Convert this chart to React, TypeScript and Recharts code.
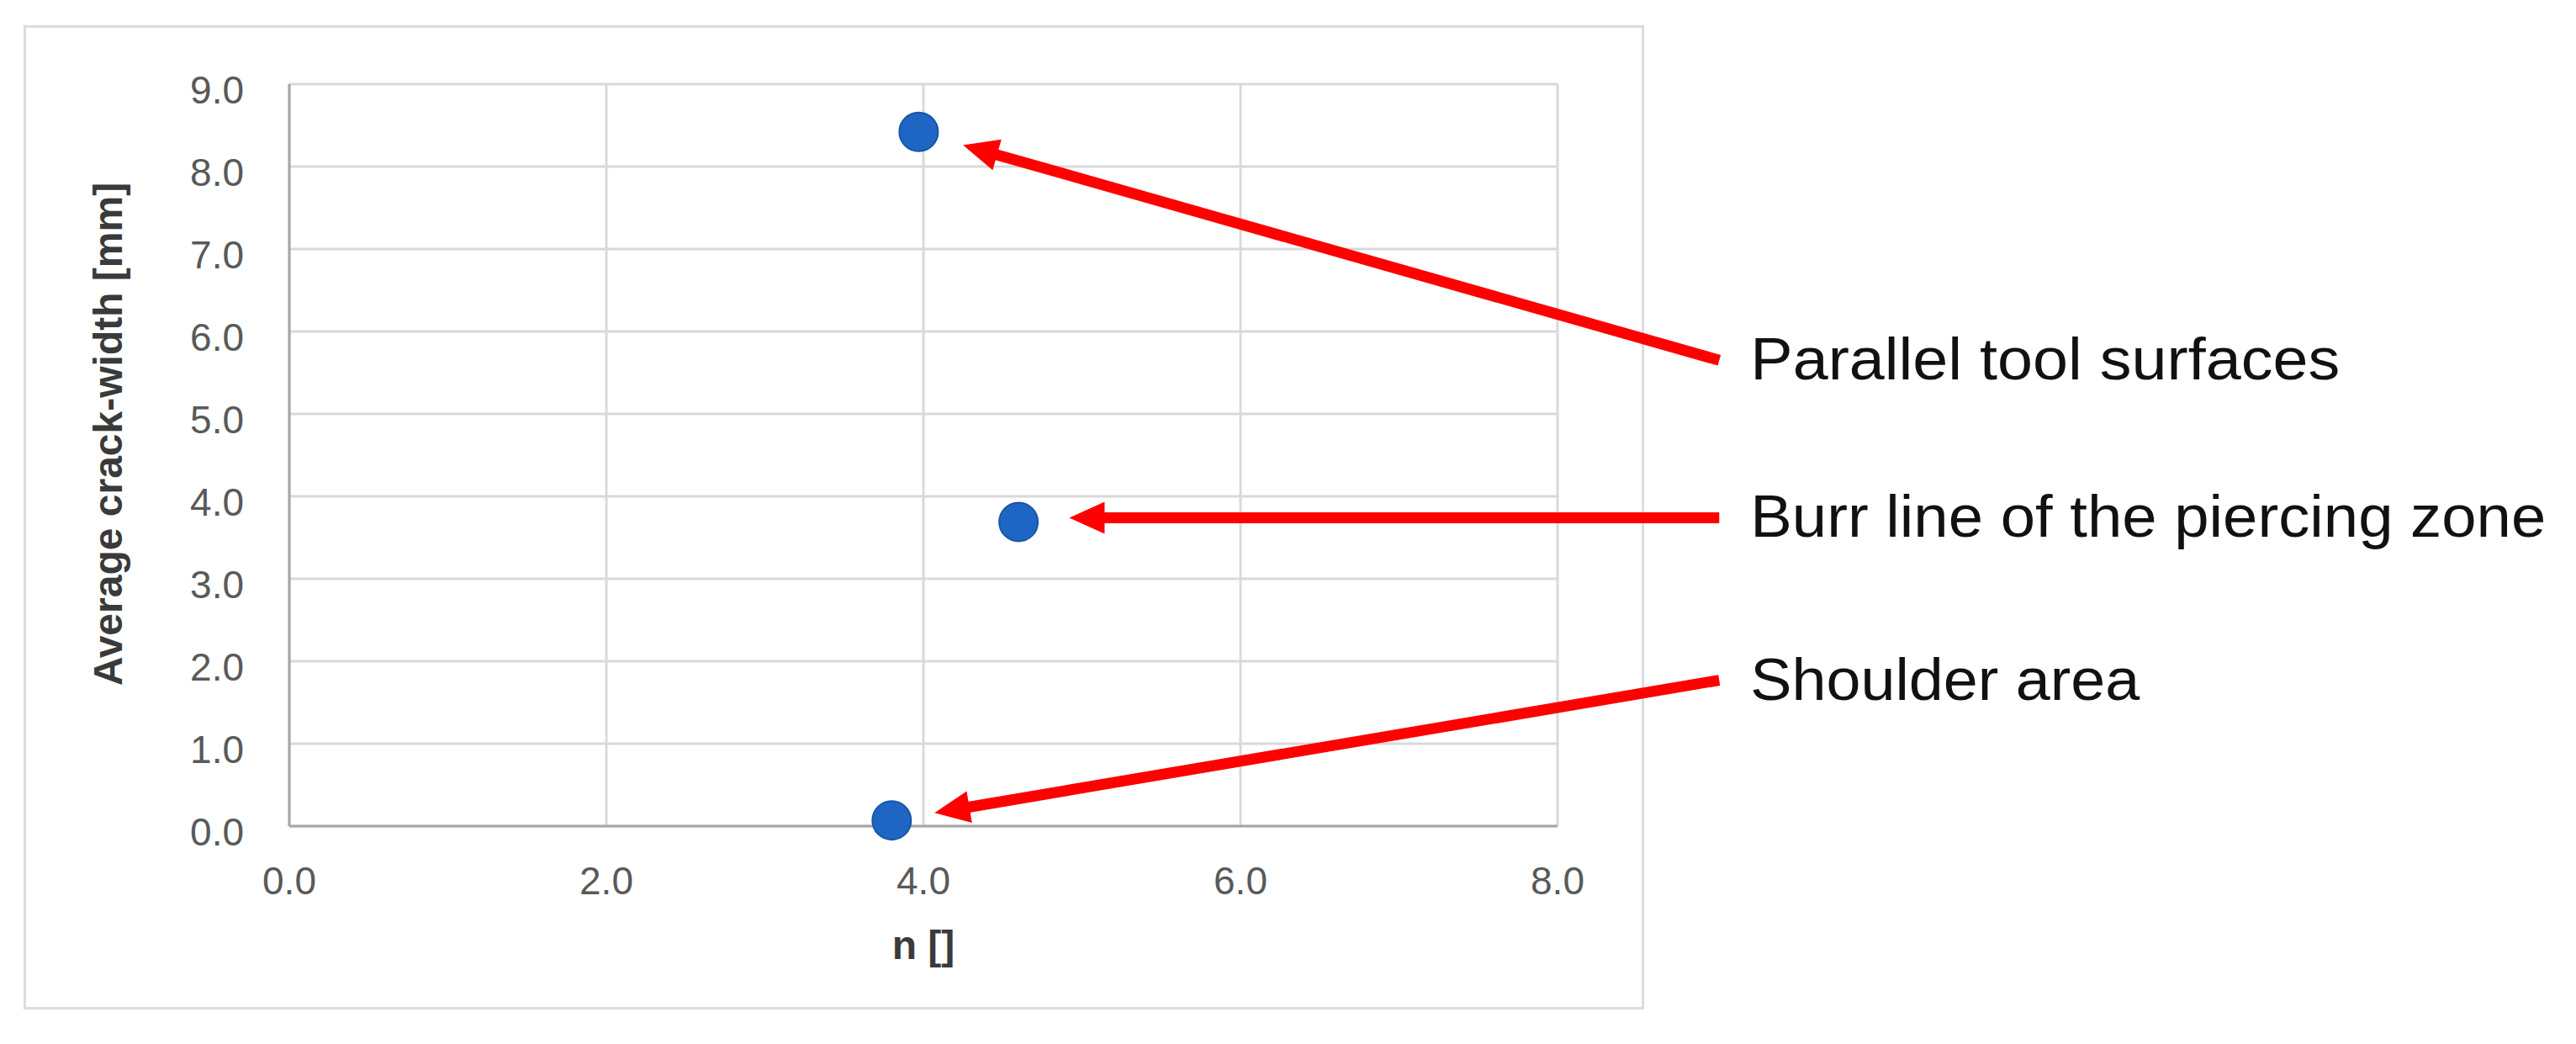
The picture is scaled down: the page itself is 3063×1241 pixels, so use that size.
import { CartesianGrid, ReferenceLine, Scatter, ScatterChart, XAxis, YAxis } from "recharts";

// measured values
const nValues = [3.97, 4.6, 3.8];
const crackWidths = [8.42, 3.69, 0.07];

const xTicks = [0, 2, 4, 6, 8];
const yTicks = [0, 1, 2, 3, 4, 5, 6, 7, 8, 9];

// annotations, in data units (arrows start right of the plot and point at the dots)
const noteTexts = ["Parallel tool surfaces", "Burr line of the piercing zone", "Shoulder area"];
const noteFrom = [
  { x: 9.02, y: 5.65 },
  { x: 9.02, y: 3.74 },
  { x: 9.02, y: 1.77 },
];
const noteTo = [
  { x: 4.25, y: 8.26 },
  { x: 4.92, y: 3.74 },
  { x: 4.07, y: 0.16 },
];

const points = nValues.map((n, i) => ({ n, w: crackWidths[i] }));

const RED = "#ff0000";
const GRID = "#d9d9d9";
const TICK_FONT = { fontSize: 46, fill: "#595959", fontFamily: "Liberation Sans, Arial, sans-serif" };
const noteWidths = [701, 946, 463];

function Dot(props: any) {
  const { cx, cy } = props;
  return <circle cx={cx} cy={cy} r={23} fill="#1f66c4" stroke="#1755a8" strokeWidth={2} />;
}

function Arrow(props: any) {
  const { x1, y1, x2, y2, text, textWidth } = props;
  const dx = x2 - x1;
  const dy = y2 - y1;
  const len = Math.hypot(dx, dy) || 1;
  const ux = dx / len;
  const uy = dy / len;
  const head = 42;
  const half = 19;
  const bx = x2 - ux * head;
  const by = y2 - uy * head;
  const px = -uy;
  const py = ux;
  return (
    <g>
      <line x1={x1} y1={y1} x2={bx + ux * 4} y2={by + uy * 4} stroke={RED} strokeWidth={13} />
      <polygon
        points={`${x2},${y2} ${bx + px * half},${by + py * half} ${bx - px * half},${by - py * half}`}
        fill={RED}
      />
      <text
        x={x1 + 37}
        y={y1 + 23}
        fontSize={70}
        fill="#111"
        fontFamily="Liberation Sans Narrow, Arial Narrow, Liberation Sans, sans-serif"
        textLength={textWidth}
        lengthAdjust="spacingAndGlyphs"
      >
        {text}
      </text>
    </g>
  );
}

function YLabel(props: any) {
  const { viewBox } = props;
  const cx = viewBox.x - 116;
  const cy = viewBox.y + viewBox.height / 2 - 25;
  return (
    <text
      x={cx}
      y={cy}
      transform={`rotate(-90, ${cx}, ${cy})`}
      textAnchor="middle"
      dominantBaseline="central"
      fontSize={48}
      fontWeight="bold"
      fill="#3a3a3a"
      fontFamily="Liberation Sans, Arial, sans-serif"
    >
      Average crack-width [mm]
    </text>
  );
}

export default function App() {
  return (
    <div style={{ position: "absolute", left: 0, top: 0, width: 3063, height: 1241, background: "#fff" }}>
      <div
        style={{
          position: "absolute",
          left: 28,
          top: 30,
          width: 1921,
          height: 1164,
          border: "3px solid #dcdcdc",
        }}
      />
      <div style={{ position: "absolute", left: 0, top: 0 }}>
        <ScatterChart
          width={3063}
          height={1241}
          margin={{ top: 100, right: 1211, bottom: 179, left: 244 }}
        >
          <CartesianGrid stroke={GRID} strokeWidth={3} />
          <XAxis
            type="number"
            dataKey="n"
            domain={[0, 8]}
            ticks={xTicks}
            height={80}
            tickFormatter={(v: number) => v.toFixed(1)}
            tick={TICK_FONT}
            tickLine={false}
            tickSize={0}
            tickMargin={48}
            axisLine={{ stroke: "#a6a6a6", strokeWidth: 3 }}
            label={{
              value: "n []",
              position: "bottom",
              offset: 44,
              fontSize: 48,
              fontWeight: "bold",
              fill: "#3a3a3a",
              fontFamily: "Liberation Sans, Arial, sans-serif",
            }}
          />
          <YAxis
            type="number"
            dataKey="w"
            domain={[0, 9]}
            ticks={yTicks}
            width={100}
            tickFormatter={(v: number) => v.toFixed(1)}
            tick={{ ...TICK_FONT, dy: 7 }}
            tickLine={false}
            tickSize={0}
            tickMargin={54}
            axisLine={{ stroke: "#a6a6a6", strokeWidth: 3 }}
            label={{ content: YLabel }}
          />
          <Scatter data={points} shape={Dot} isAnimationActive={false} />
          {noteTexts.map((t, i) => (
            <ReferenceLine
              key={t}
              segment={[noteFrom[i], noteTo[i]]}
              ifOverflow="visible"
              shape={(p: any) => <Arrow {...p} text={t} textWidth={noteWidths[i]} />}
            />
          ))}
        </ScatterChart>
      </div>
    </div>
  );
}
